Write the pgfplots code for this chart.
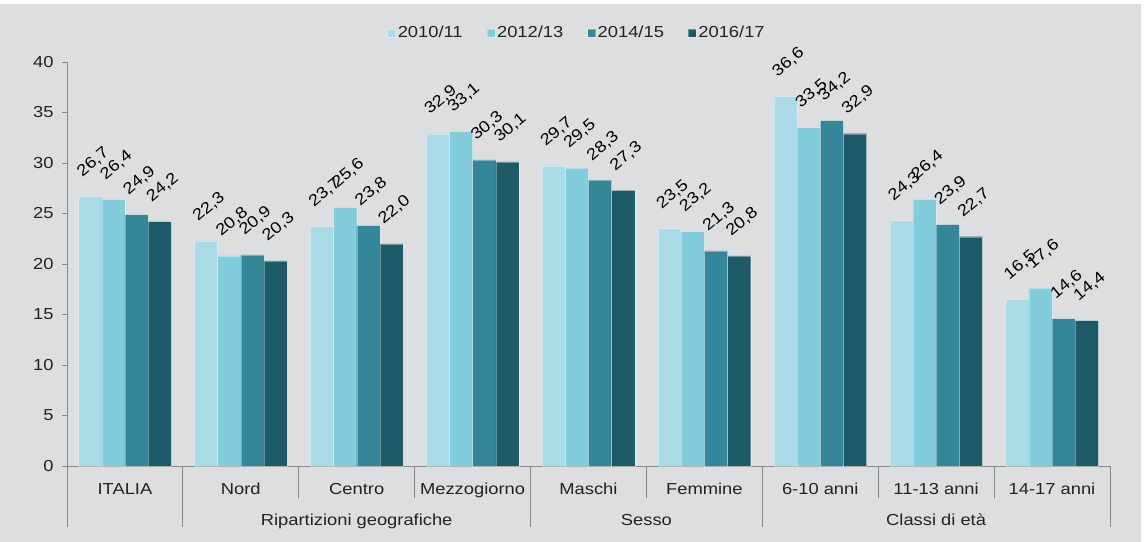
\documentclass[border=0pt]{standalone}
\usepackage{pgfplots}
\pgfplotsset{compat=1.18}
\usepackage{pgfplotstable}
\usepackage{fontspec}
\setmainfont{Liberation Sans}[FakeStretch=1.15]

\definecolor{bg}{HTML}{DDDEE0}
\definecolor{cA}{HTML}{A9DCE6}
\definecolor{cB}{HTML}{82CDDB}
\definecolor{cC}{HTML}{338799}
\definecolor{cD}{HTML}{1B5A66}
\definecolor{axgray}{HTML}{878787}
\definecolor{txt}{HTML}{222222}

\pgfplotstableread{
x a b c d
0 26.7 26.4 24.9 24.2
1 22.3 20.8 20.9 20.3
2 23.7 25.6 23.8 22.0
3 32.9 33.1 30.3 30.1
4 29.7 29.5 28.3 27.3
5 23.5 23.2 21.3 20.8
6 36.6 33.5 34.2 32.9
7 24.3 26.4 23.9 22.7
8 16.5 17.6 14.6 14.4
}\data

\begin{document}
\begin{tikzpicture}[font=\fontsize{16}{19}\selectfont]
\fill[white] (0,0) rectangle (1147bp,542bp);
\fill[bg] (0,0) rectangle (1141bp,538bp);
\begin{axis}[
 at={(67bp,76bp)}, anchor=south west,
 scale only axis, width=1043bp, height=404bp,
 xmin=-0.5, xmax=8.5, ymin=0, ymax=40,
 axis x line*=bottom, axis y line*=left,
 axis line style={axgray, line width=0.8bp},
 clip=false,
 ybar=0pt, bar width=0.2,
 xtick={0,...,8},
 xticklabels={ITALIA,Nord,Centro,Mezzogiorno,Maschi,Femmine,6-10 anni,11-13 anni,14-17 anni},
 x tick style={draw=none},
 xticklabel style={anchor=base, yshift=-23bp, text=txt},
 ytick={0,5,...,40},
 y tick style={axgray, line width=0.8bp},
 tick align=outside, major tick length=5bp,
 yticklabel style={text=txt, xshift=-5bp},
 /pgf/number format/assume math mode=true,
 legend style={at={(0.489,1.072)}, anchor=center, draw=none, fill=none,
   legend columns=4, text=txt,
   /tikz/every even column/.append style={column sep=22bp},
   nodes={inner sep=2bp}},
 legend image code/.code={\fill[#1] (-2bp,-4bp) rectangle (6bp,4bp);},
 nodes near coords={\pgfmathprintnumber[fixed,fixed zerofill,precision=1,use comma]{\pgfplotspointmeta}},
 every node near coord/.append style={anchor=base west, xshift=-8bp, yshift=19bp, rotate=40, text=black, inner sep=0pt},
]
\addplot[fill=cA, draw=white, draw opacity=0.35, line width=0.4bp, bar shift=-0.3] table[x=x,y=a]{\data};
\addplot[fill=cB, draw=white, draw opacity=0.35, line width=0.4bp, bar shift=-0.1] table[x=x,y=b]{\data};
\addplot[fill=cC, draw=white, draw opacity=0.35, line width=0.4bp, bar shift=0.1] table[x=x,y=c]{\data};
\addplot[fill=cD, draw=white, draw opacity=0.35, line width=0.4bp, bar shift=0.3] table[x=x,y=d]{\data};
\legend{2010/11,2012/13,2014/15,2016/17}

\draw[axgray, line width=0.8bp] (axis cs:-0.5,0) -- ++(0pt,-61bp);
\draw[axgray, line width=0.8bp] (axis cs:0.5,0) -- ++(0pt,-61bp);
\draw[axgray, line width=0.8bp] (axis cs:1.5,0) -- ++(0pt,-32bp);
\draw[axgray, line width=0.8bp] (axis cs:2.5,0) -- ++(0pt,-32bp);
\draw[axgray, line width=0.8bp] (axis cs:3.5,0) -- ++(0pt,-61bp);
\draw[axgray, line width=0.8bp] (axis cs:4.5,0) -- ++(0pt,-32bp);
\draw[axgray, line width=0.8bp] (axis cs:5.5,0) -- ++(0pt,-61bp);
\draw[axgray, line width=0.8bp] (axis cs:6.5,0) -- ++(0pt,-32bp);
\draw[axgray, line width=0.8bp] (axis cs:7.5,0) -- ++(0pt,-32bp);
\draw[axgray, line width=0.8bp] (axis cs:8.5,0) -- ++(0pt,-61bp);

\node[anchor=base, text=txt, yshift=-59bp] at (axis cs:2,0) {Ripartizioni geografiche};
\node[anchor=base, text=txt, yshift=-59bp] at (axis cs:4.5,0) {Sesso};
\node[anchor=base, text=txt, yshift=-59bp] at (axis cs:7,0) {Classi di età};
\end{axis}
\end{tikzpicture}
\end{document}
